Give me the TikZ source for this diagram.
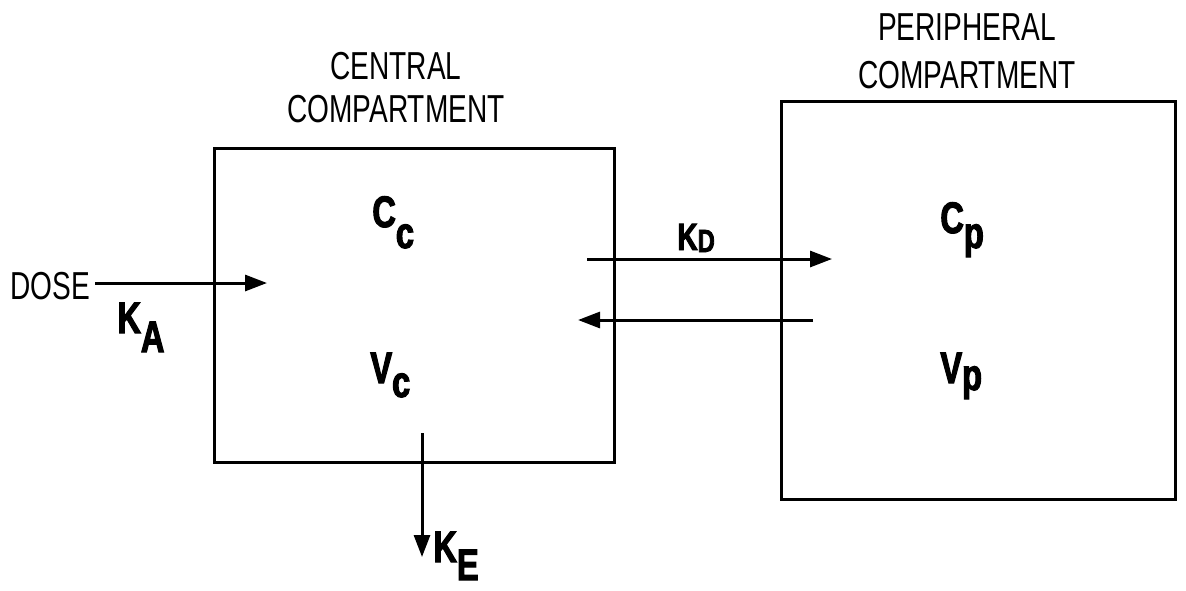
\documentclass[tikz,border=0pt]{standalone}
\usepackage{fontspec}
\usetikzlibrary{arrows.meta}
\newfontfamily\hdfont[FakeStretch=0.72]{Liberation Sans}
\newfontfamily\lbfont[FakeStretch=0.74,FakeBold=2.5]{Liberation Sans Bold}
\tikzset{
  comp/.style={draw,line width=1.5pt,rectangle,inner sep=0pt,outer sep=0pt},
  flow/.style={line width=1.5pt,-{Triangle[length=11pt,width=8pt]}},
  head/.style={font=\hdfont\fontsize{19.5pt}{22pt}\selectfont,inner sep=0pt,anchor=base},
  sym/.style={font=\lbfont\fontsize{22pt}{24pt}\selectfont,inner sep=0pt,anchor=base west},
}
\begin{document}
\begin{tikzpicture}[x=0.5pt,y=-0.5pt]
\useasboundingbox (0,0) rectangle (1186,590);
% compartments
\node[comp,minimum width=200pt,minimum height=157pt] (central) at (414,305) {};
\node[comp,minimum width=197pt,minimum height=199pt] (peripheral) at (978,300) {};
% headings
\node[head] (ctitle1) at (396,79) {CENTRAL};
\node[head] (ctitle2) at (396,122) {COMPARTMENT};
\node[head] (ptitle1) at (967,40) {PERIPHERAL};
\node[head] (ptitle2) at (967,88) {COMPARTMENT};
\node[head,anchor=base west] (dose) at (10,299) {DOSE};
% symbols
\node[sym] (ka) at (117,333) {K\raisebox{-9.5pt}{A}};
\node[sym] (cc) at (372,227) {C\raisebox{-10.5pt}{c}};
\node[sym] (vc) at (370,383) {V\raisebox{-7pt}{c}};
\node[sym] (cp) at (940,233) {C\raisebox{-7.5pt}{p}};
\node[sym] (vp) at (940,383) {V\raisebox{-3.5pt}{p}};
\node[sym,font=\lbfont\fontsize{19pt}{21pt}\selectfont] (kd) at (677,250) {K\raisebox{-1pt}{\fontsize{16pt}{18pt}\selectfont D}};
\node[sym] (ke) at (433,562) {K\raisebox{-9pt}{E}};
% connector end points
\coordinate (doseS) at (95,283);
\coordinate (doseE) at (267,283);
\coordinate (kdS) at (587,259);
\coordinate (kdE) at (832,259);
\coordinate (retS) at (813,320);
\coordinate (retE) at (578,320);
\coordinate (keS) at (422,433);
\coordinate (keE) at (422,557);
% flows
\draw[flow] (doseS) -- (doseE);
\draw[flow] (kdS) -- (kdE);
\draw[flow] (retS) -- (retE);
\draw[flow] (keS) -- (keE);
\end{tikzpicture}
\end{document}
